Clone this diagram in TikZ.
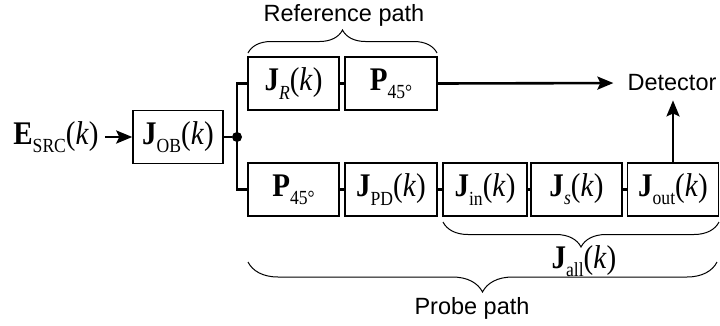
\documentclass[tikz,border=0pt]{standalone}
\usepackage{fontspec}
\setmainfont{Liberation Sans}
\newfontfamily\tms[FakeStretch=0.88]{Liberation Serif}
\usetikzlibrary{arrows.meta,decorations.pathreplacing}

% operator symbols: bold J/P/E, lowered roman subscript, italic k
\newcommand{\sbs}[1]{\raisebox{-0.25em}{\fontsize{20}{20}\selectfont #1}}
\newcommand{\op}[2]{{\bfseries #1}\sbs{#2}}
\newcommand{\kk}{(\textit{k})}

\begin{document}
\begin{tikzpicture}[x=1pt,y=-1pt,
  mth/.style={font=\tms\fontsize{33}{33}\selectfont},
  blk/.style={draw, line width=1.5pt, minimum height=53pt, inner sep=0pt, mth},
  wire/.style={line width=2.6pt},
  arr/.style={wire, -{Stealth[length=16pt,width=13pt,inset=3pt]}},
  brc/.style={decorate, line width=1pt},
  lbl/.style={inner sep=0pt, font=\fontsize{23.5}{23.5}\selectfont},
  dot/.style={circle, fill, inner sep=0pt, minimum size=10pt}]
\useasboundingbox (0,0) rectangle (720,325);

% source and object
\node[inner sep=0pt, mth] (src) at (56,137) {\op{E}{SRC}\kk};
\node[blk, minimum width=90pt] (job) at (178,137) {\op{J}{OB}\kk};
\node[dot] (split) at (237,137) {};

% reference arm
\node[blk, minimum width=91pt] (jr)  at (293.5,83.5) {\op{J}{\textit{R}}\kk};
\node[blk, minimum width=92pt] (pa)  at (391,83.5)   {\op{P}{45°}};

% probe arm
\node[blk, minimum width=91pt] (pb)   at (293.5,189.5) {\op{P}{45°}};
\node[blk, minimum width=92pt] (jpd)  at (391,189.5)   {\op{J}{PD}\kk};
\node[blk, minimum width=84pt] (jin)  at (485,189.5)   {\op{J}{in}\kk};
\node[blk, minimum width=91pt] (js)   at (576.5,189.5) {\op{J}{\textit{s}}\kk};
\node[blk, minimum width=91pt] (jout) at (673,189.5)   {\op{J}{out}\kk};

\node[lbl] (det) at (672,83) {Detector};

% connectors
\draw[arr, shorten <=6pt] (src.east) -- (job.west);
\draw[wire] (job.east) -- (split);
\draw[wire] (split.center) |- (jr.west);
\draw[wire] (split.center) |- (pb.west);
\draw[wire] (jr.east) -- (pa.west);
\draw[wire] (pb.east) -- (jpd.west);
\draw[wire] (jpd.east) -- (jin.west);
\draw[wire] (jin.east) -- (js.west);
\draw[wire] (js.east) -- (jout.west);
\draw[arr, shorten >=14pt] (pa.east) -- (det.west);
\draw[arr, shorten >=9pt] (jout.north) -- (jout.north |- det.south);

% braces and their labels
\draw[brc, decoration={brace, amplitude=23pt}] (248,53) -- (437,53);
\node[lbl] (reflbl) at (344,15) {Reference path};
\draw[brc, decoration={brace, amplitude=25pt}] (719,222) -- (443,222);
\node[inner sep=0pt, mth] (jall) at (584,261) {\op{J}{all}\kk};
\draw[brc, decoration={brace, amplitude=30pt}] (717,262) -- (248,262);
\node[lbl] (problbl) at (472,308) {Probe path};
\end{tikzpicture}
\end{document}
